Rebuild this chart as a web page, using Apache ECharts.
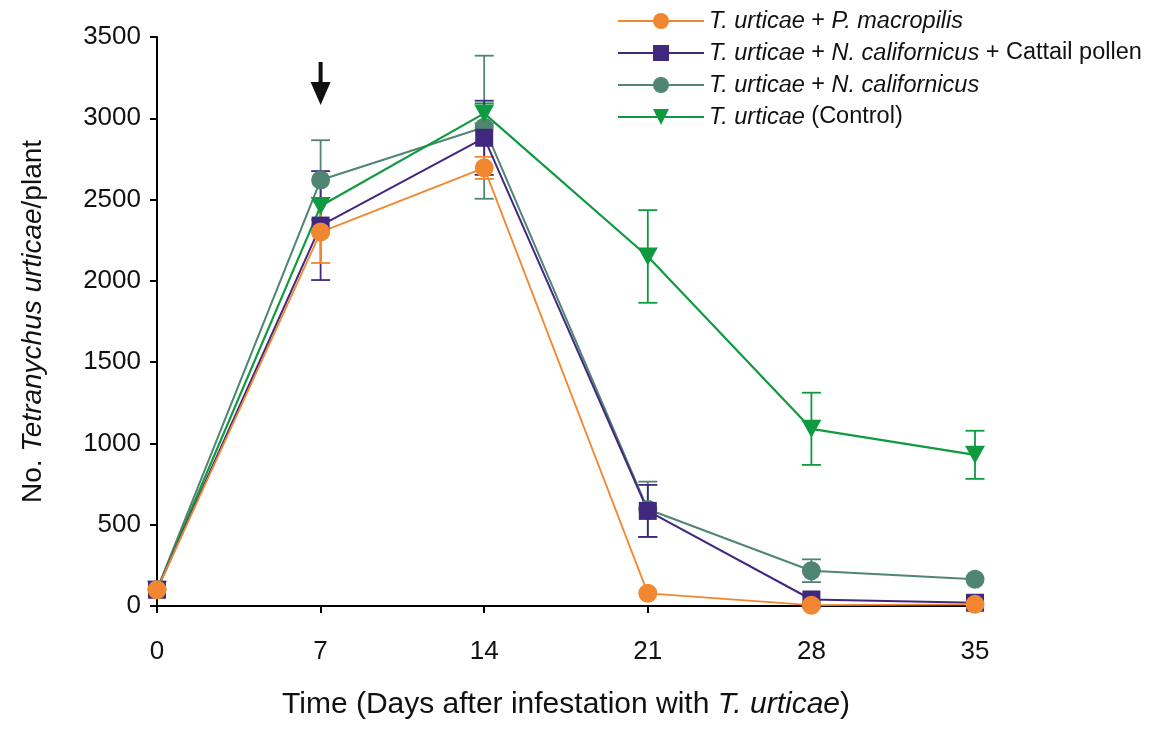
<!DOCTYPE html>
<html>
<head>
<meta charset="utf-8">
<script src="https://cdn.jsdelivr.net/npm/echarts@6/dist/echarts.min.js"></script>
<style>
  html, body { margin: 0; padding: 0; background: #fff; }
  #chart { width: 1159px; height: 729px; }
</style>
</head>
<body>
<div id="chart"></div>
<script>
const days = [0, 7, 14, 21, 28, 35]
const xTicks = [0, 7, 14, 21, 28, 35]
const yTicks = [0, 500, 1000, 1500, 2000, 2500, 3000, 3500]

// mean and +/- error
const pmac = [100, 2300, 2695, 78, 5, 10]
const pmacErr = [0, 190, 68, 0, 0, 0]
const ncalPollen = [100, 2340, 2880, 585, 40, 20]
const ncalPollenErr = [0, 335, 228, 160, 0, 0]
const ncal = [100, 2620, 2945, 595, 217, 165]
const ncalErr = [0, 245, 440, 170, 70, 0]
const control = [100, 2460, 3030, 2150, 1090, 930]
const controlErr = [0, 0, 62, 285, 222, 148]

// release arrow above day 7
const arrowAt = [7, 3214]

const FONT = '"Liberation Sans", Arial, sans-serif'

const groups = [
  { name: 'pmac', label: '{i|T. urticae} + {i|P. macropilis}', color: '#F18730', symbol: 'circle', size: 19, width: 1.8, values: pmac, errs: pmacErr },
  { name: 'pollen', label: '{i|T. urticae} + {i|N. californicus} + Cattail pollen', color: '#40287F', symbol: 'rect', size: 18, width: 2, values: ncalPollen, errs: ncalPollenErr },
  { name: 'ncal', label: '{i|T. urticae} + {i|N. californicus}', color: '#4F8572', symbol: 'circle', size: 19, width: 2, values: ncal, errs: ncalErr },
  { name: 'control', label: '{i|T. urticae} (Control)', color: '#0F9A40', symbol: 'triangle', size: 20, width: 2.2, values: control, errs: controlErr }
]
// drawing order (bottom to top)
const drawOrder = ['ncal', 'control', 'pollen', 'pmac']

const errorSeries = drawOrder.map(key => {
  const g = groups.find(s => s.name === key)
  const data = days
    .map((d, i) => [d, g.values[i] - g.errs[i], g.values[i] + g.errs[i]])
    .filter((row, i) => g.errs[i] > 0)
  return {
    type: 'custom',
    silent: true,
    data: data,
    renderItem: (params, api) => {
      const x = api.value(0)
      const lo = api.coord([x, api.value(1)])
      const hi = api.coord([x, api.value(2)])
      const hw = 9.5
      const style = { stroke: g.color, lineWidth: 1.8 }
      return {
        type: 'group',
        children: [
          { type: 'line', shape: { x1: lo[0], y1: lo[1], x2: hi[0], y2: hi[1] }, style },
          { type: 'line', shape: { x1: lo[0] - hw, y1: lo[1], x2: lo[0] + hw, y2: lo[1] }, style },
          { type: 'line', shape: { x1: hi[0] - hw, y1: hi[1], x2: hi[0] + hw, y2: hi[1] }, style }
        ]
      }
    }
  }
})

const lineSeries = drawOrder.map(key => {
  const g = groups.find(s => s.name === key)
  const s = {
    name: g.name,
    type: 'line',
    data: days.map((d, i) => [d, g.values[i]]),
    symbol: g.symbol,
    symbolSize: g.symbol === 'triangle' ? [20, 18] : g.size,
    symbolRotate: g.symbol === 'triangle' ? 180 : 0,
    showSymbol: true,
    lineStyle: { color: g.color, width: g.width },
    itemStyle: { color: g.color, opacity: 1 }
  }
  if (key === 'control') {
    s.markPoint = {
      silent: true,
      symbol: 'path://M8,0 L12,0 L12,20 L20,20 L10,43 L0,20 L8,20 Z',
      symbolSize: [20, 43],
      label: { show: false },
      itemStyle: { color: '#111' },
      data: [{ coord: arrowAt }]
    }
  }
  return s
})

const chart = echarts.init(document.getElementById('chart'))
chart.setOption({
  animation: false,
  backgroundColor: '#fff',
  grid: { left: 157, right: 184, top: 37, bottom: 123, containLabel: false },
  legend: {
    orient: 'vertical',
    left: 612,
    top: 4,
    itemWidth: 86,
    itemHeight: 20,
    itemGap: 8,
    data: groups.map(g => g.name),
    formatter: name => groups.find(g => g.name === name).label,
    textStyle: {
      color: '#111',
      fontFamily: FONT,
      fontSize: 23.5,
      rich: {
        i: { fontStyle: 'italic', fontFamily: FONT, fontSize: 23.5, color: '#111' }
      }
    }
  },
  xAxis: {
    type: 'value',
    min: 0,
    max: 35,
    interval: 7,
    name: '{n|Time (Days after infestation with }{i|T. urticae}{n|)}',
    nameLocation: 'middle',
    nameGap: 84,
    nameTextStyle: {
      rich: {
        n: { fontFamily: FONT, fontSize: 30, color: '#111' },
        i: { fontFamily: FONT, fontSize: 30, fontStyle: 'italic', color: '#111' }
      }
    },
    axisLine: { show: true, onZero: false, lineStyle: { color: '#000', width: 2 } },
    axisTick: { show: true, length: 7, lineStyle: { color: '#000', width: 2 } },
    axisLabel: {
      color: '#111', fontFamily: FONT, fontSize: 26, margin: 33,
      formatter: v => xTicks.includes(v) ? String(v) : ''
    },
    splitLine: { show: false }
  },
  yAxis: {
    type: 'value',
    min: 0,
    max: 3500,
    interval: 500,
    name: 'No. {i|Tetranychus urticae}/plant',
    nameLocation: 'middle',
    nameGap: 110,
    nameTextStyle: {
      fontFamily: FONT, fontSize: 28, color: '#111',
      rich: {
        i: { fontFamily: FONT, fontSize: 28, fontStyle: 'italic', color: '#111' }
      }
    },
    axisLine: { show: true, lineStyle: { color: '#000', width: 2 } },
    axisTick: { show: true, length: 7, lineStyle: { color: '#000', width: 2 } },
    axisLabel: {
      color: '#111', fontFamily: FONT, fontSize: 26, margin: 16,
      formatter: v => yTicks.includes(v) ? String(v) : ''
    },
    splitLine: { show: false }
  },
  series: [...errorSeries, ...lineSeries]
})
</script>
</body>
</html>
